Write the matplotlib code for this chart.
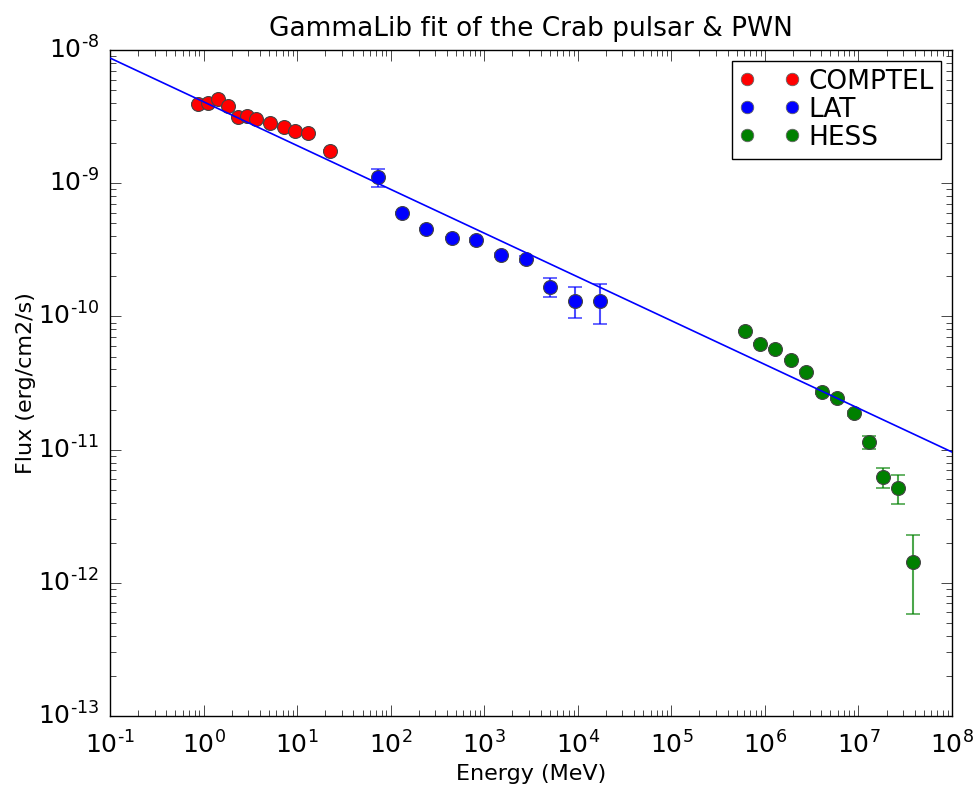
import matplotlib
matplotlib.use('Agg')
import matplotlib.pyplot as plt
from matplotlib.lines import Line2D
from matplotlib.ticker import FuncFormatter
import numpy as np

# COMPTEL data (MeV, erg/cm2/s)
comptel_energy = [0.87, 1.11, 1.43, 1.82, 2.33, 2.91, 3.63, 5.13, 7.24, 9.49, 13.1, 22.5]
comptel_flux = [3.93e-9, 4.0e-9, 4.29e-9, 3.80e-9, 3.14e-9, 3.19e-9, 3.03e-9,
                2.83e-9, 2.64e-9, 2.47e-9, 2.38e-9, 1.75e-9]
comptel_err = [0.05e-9, 0.05e-9, 0.05e-9, 0.05e-9, 0.04e-9, 0.04e-9, 0.04e-9,
               0.03e-9, 0.03e-9, 0.03e-9, 0.03e-9, 0.03e-9]

# LAT data
lat_energy = [73.2, 132, 238, 452, 816, 1510, 2793, 5047, 9330, 17260]
lat_flux = [1.11e-9, 5.98e-10, 4.53e-10, 3.88e-10, 3.75e-10, 2.89e-10, 2.70e-10,
            1.66e-10, 1.31e-10, 1.31e-10]
lat_err = [0.17e-9, 0.1e-10, 0.1e-10, 0.1e-10, 0.1e-10, 0.1e-10, 0.15e-10,
           0.27e-10, 0.34e-10, 0.43e-10]

# HESS data
hess_energy = [6.12e5, 8.86e5, 1.28e6, 1.90e6, 2.75e6, 4.07e6, 5.89e6, 8.95e6,
               1.29e7, 1.83e7, 2.64e7, 3.83e7]
hess_flux = [7.77e-11, 6.21e-11, 5.69e-11, 4.71e-11, 3.83e-11, 2.71e-11, 2.44e-11,
             1.88e-11, 1.14e-11, 6.22e-12, 5.15e-12, 1.43e-12]
hess_err = [0.1e-11, 0.1e-11, 0.1e-11, 0.1e-11, 0.1e-11, 0.08e-11, 0.08e-11,
            0.08e-11, 0.13e-11, 1.1e-12, 1.27e-12, 0.85e-12]

# fitted power law, end points
model_energy = [0.1, 1e8]
model_flux = [8.71e-9, 9.59e-12]

plt.style.use('classic')
plt.rcParams['font.family'] = ['DejaVu Sans']
plt.rcParams['mathtext.fontset'] = 'dejavusans'
plt.rcParams['mathtext.default'] = 'regular'


def pow10(v, pos):
    # old style log labels with a short hyphen in the exponent
    n = int(round(np.log10(v)))
    return r'$10^{\text{%d}}$' % n


fig = plt.figure(figsize=(9.79, 7.88), dpi=100, facecolor='white')
ax = fig.add_axes([0.1124, 0.0914, 0.8600, 0.8451])

handles = []
for e, f, err, col, lab in [(comptel_energy, comptel_flux, comptel_err, 'red', 'COMPTEL'),
                            (lat_energy, lat_flux, lat_err, 'blue', 'LAT'),
                            (hess_energy, hess_flux, hess_err, 'green', 'HESS')]:
    # error bars (lighter), then markers on top
    ax.errorbar(e, f, yerr=err, fmt='none', ecolor=col, elinewidth=1.5,
                capsize=5, capthick=1.2, alpha=0.7)
    ax.plot(e, f, 'o', color=col, markersize=10, markeredgecolor='#444444',
            markeredgewidth=0.8)
    handles.append(Line2D([], [], linestyle='none', marker='o', color=col,
                          markersize=9, markeredgecolor='#666666',
                          markeredgewidth=0.6, label=lab))

ax.plot(model_energy, model_flux, color='blue', linewidth=1.2, zorder=5)

ax.set_xscale('log')
ax.set_yscale('log')
ax.set_xlim(1e-1, 1e8)
ax.set_ylim(1e-13, 1e-8)
ax.xaxis.set_major_formatter(FuncFormatter(pow10))
ax.yaxis.set_major_formatter(FuncFormatter(pow10))
ax.set_title('GammaLib fit of the Crab pulsar & PWN', fontsize=19, y=1.01)
ax.set_xlabel('Energy (MeV)', fontsize=16, labelpad=4)
ax.set_ylabel('Flux (erg/cm2/s)', fontsize=16)
ax.yaxis.set_label_coords(-0.088, 0.5)
ax.tick_params(labelsize=18)
ax.tick_params(axis='x', pad=11)
ax.tick_params(axis='y', pad=8)
ax.tick_params(which='major', length=8)
ax.tick_params(which='minor', length=4)

ax.legend(handles=handles, loc='upper right', numpoints=2, fontsize=19,
          handletextpad=0.3, handlelength=2.3, borderpad=0.3, labelspacing=0.08,
          borderaxespad=0.4)

fig.savefig('out.png', dpi=100, facecolor='white')
